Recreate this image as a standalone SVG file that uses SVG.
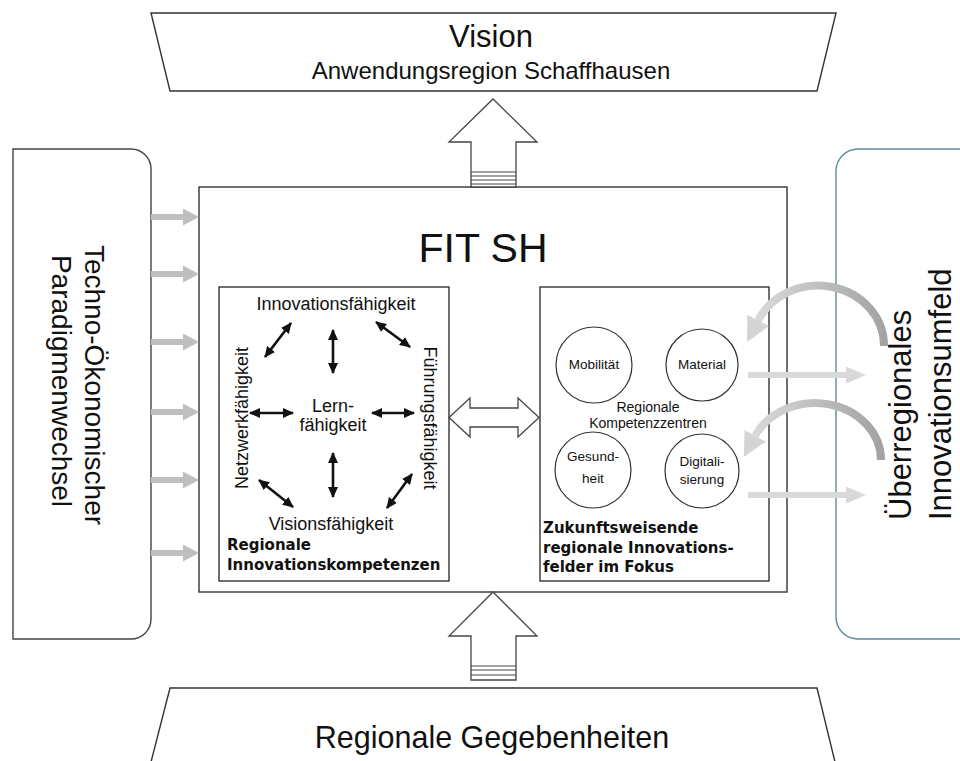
<svg xmlns="http://www.w3.org/2000/svg" width="960" height="761" viewBox="0 0 960 761">
<defs>
<style>
.t{font-family:"Liberation Sans",Arial,sans-serif;fill:#111}
.b{font-family:"DejaVu Sans",Verdana,sans-serif;font-weight:bold;fill:#111;font-size:15px}
.box{fill:#fff;stroke:#333;stroke-width:1.4}
.circ{fill:#fff;stroke:#333;stroke-width:1.2}
.blk{stroke:#111;stroke-width:2.6;fill:none;marker-start:url(#hb);marker-end:url(#hb)}
.gl{stroke:#bfbfbf;stroke-width:6;marker-end:url(#hgl)}
.gr{stroke:#d9d9d9;stroke-width:6;marker-end:url(#hgr)}
.hollow{fill:#fff;stroke:#444;stroke-width:1.3}
.c{font-size:13.5px}
.m{font-size:18px}
</style>
<marker id="hb" markerUnits="userSpaceOnUse" markerWidth="11" markerHeight="10" refX="10" refY="5" orient="auto-start-reverse" viewBox="0 0 11 10">
<path d="M0,0 L11,5 L0,10 z" fill="#111"/>
</marker>
<marker id="hgl" markerUnits="userSpaceOnUse" markerWidth="16" markerHeight="17" refX="0" refY="8.5" orient="auto" viewBox="0 0 16 17">
<path d="M0,0 L16,8.5 L0,17 z" fill="#bfbfbf"/>
</marker>
<marker id="hgr" markerUnits="userSpaceOnUse" markerWidth="20" markerHeight="17" refX="0" refY="8.5" orient="auto" viewBox="0 0 20 17">
<path d="M0,0 L20,8.5 L0,17 z" fill="#d9d9d9"/>
</marker>
<linearGradient id="gc" x1="1" y1="0" x2="0" y2="0">
<stop offset="0" stop-color="#a3a3a3"/>
<stop offset="1" stop-color="#d9d9d9"/>
</linearGradient>
</defs>
<rect width="960" height="761" fill="#fff"/>

<g id="vision">
<path d="M151,13 L836,13 L817,91 L170,91 z" fill="#fff" stroke="#333" stroke-width="1.4"/>
<text class="t" x="491" y="47" font-size="31" text-anchor="middle">Vision</text>
<text class="t" x="491" y="79" font-size="24" text-anchor="middle">Anwendungsregion Schaffhausen</text>
</g>

<g id="gegebenheiten">
<path d="M170,688 L817,688 L835,762 L151,762 z" fill="#fff" stroke="#333" stroke-width="1.4"/>
<text class="t" x="492" y="748" font-size="30.5" text-anchor="middle">Regionale Gegebenheiten</text>
</g>

<g id="paradigmenwechsel">
<path d="M13,149 L131,149 A20,20 0 0 1 151,169 L151,619 A20,20 0 0 1 131,639 L13,639 z" fill="#fff" stroke="#444" stroke-width="1.4"/>
<text class="t" font-size="28" text-anchor="middle" transform="translate(85,385) rotate(90)">Techno-Ökonomischer</text>
<text class="t" font-size="28" text-anchor="middle" transform="translate(52,381) rotate(90)">Paradigmenwechsel</text>
</g>

<g id="umfeld">
<path d="M1000,149 L858,149 A22,22 0 0 0 836,171 L836,617 A22,22 0 0 0 858,639 L1000,639" fill="#fff" stroke="#5b8c9b" stroke-width="1.4"/>
<text class="t" font-size="31" transform="translate(911,520) rotate(-90)">Überregionales</text>
<text class="t" font-size="31" transform="translate(951,520) rotate(-90)">Innovationsumfeld</text>
</g>

<g id="fitsh">
<rect class="box" x="199" y="187" width="588" height="405"/>
<text class="t" x="483" y="262" font-size="41" text-anchor="middle">FIT SH</text>
</g>

<g id="kompetenzen">
<rect class="box" x="219" y="287" width="230" height="294"/>
<text class="t m" x="336" y="310" text-anchor="middle">Innovationsfähigkeit</text>
<text class="t m" x="331" y="530" text-anchor="middle">Visionsfähigkeit</text>
<text class="t m" x="333" y="412" text-anchor="middle">Lern-</text>
<text class="t m" x="333" y="431" text-anchor="middle">fähigkeit</text>
<text class="t m" text-anchor="middle" transform="translate(248,418) rotate(-90)">Netzwerkfähigkeit</text>
<text class="t m" text-anchor="middle" transform="translate(424,418) rotate(90)">Führungsfähigkeit</text>
<text class="b" x="227" y="550">Regionale</text>
<text class="b" x="227" y="570">Innovationskompetenzen</text>
</g>

<g id="innovationsfelder">
<rect class="box" x="540" y="287" width="229" height="294"/>
<text class="b" x="543" y="533">Zukunftsweisende</text>
<text class="b" x="543" y="553">regionale Innovations-</text>
<text class="b" x="543" y="572">felder im Fokus</text>
<text class="t" x="648" y="412" font-size="14" text-anchor="middle">Regionale</text>
<text class="t" x="648" y="428" font-size="14" text-anchor="middle">Kompetenzzentren</text>
</g>

<g id="mobilitaet">
<circle class="circ" cx="594" cy="365" r="38"/>
<text class="t c" x="594" y="369" text-anchor="middle">Mobilität</text>
</g>
<g id="material">
<circle class="circ" cx="702" cy="365" r="36"/>
<text class="t c" x="702" y="369" text-anchor="middle">Material</text>
</g>
<g id="gesundheit">
<circle class="circ" cx="593" cy="470" r="38"/>
<text class="t c" x="593" y="461" text-anchor="middle">Gesund-</text>
<text class="t c" x="593" y="483" text-anchor="middle">heit</text>
</g>
<g id="digitalisierung">
<circle class="circ" cx="702" cy="471" r="37"/>
<text class="t c" x="702" y="466" text-anchor="middle">Digitali-</text>
<text class="t c" x="702" y="484" text-anchor="middle">sierung</text>
</g>

<g id="connectors">
<path d="M493,99 L537,142 L516,142 L516,187 L471,187 L471,142 L449,142 z" fill="#fff" stroke="#444" stroke-width="1.3"/>
<path d="M471,172 H516 M471,176 H516 M471,180 H516 M471,184 H516" stroke="#444" stroke-width="1.2"/>
<path d="M493,592 L537,636 L516,636 L516,680 L471,680 L471,636 L449,636 z" fill="#fff" stroke="#444" stroke-width="1.3"/>
<path d="M471,666 H516 M471,670 H516 M471,675 H516" stroke="#444" stroke-width="1.2"/>

<path class="hollow" d="M449,417.5 L470,398 L470,408 L518,408 L518,398 L539,417.5 L518,437 L518,427 L470,427 L470,437 z"/>

<line class="gl" x1="151" y1="217" x2="183" y2="217"/>
<line class="gl" x1="151" y1="274" x2="183" y2="274"/>
<line class="gl" x1="151" y1="342" x2="183" y2="342"/>
<line class="gl" x1="151" y1="412" x2="183" y2="412"/>
<line class="gl" x1="151" y1="480" x2="183" y2="480"/>
<line class="gl" x1="151" y1="553" x2="183" y2="553"/>

<line class="gr" x1="748" y1="375" x2="846" y2="375"/>
<line class="gr" x1="748" y1="495" x2="846" y2="495"/>

<path d="M884,346 A66,60 0 0 0 758,320.6" fill="none" stroke="url(#gc)" stroke-width="8"/>
<path d="M747,342 L747.3,315 L769,326 z" fill="#d4d4d4"/>
<path d="M881,460 A66,57 0 0 0 755.2,435.9" fill="none" stroke="url(#gc)" stroke-width="8"/>
<path d="M743.8,457 L744.6,430.2 L765.8,441.6 z" fill="#d4d4d4"/>

<line class="blk" x1="333" y1="330" x2="333" y2="373"/>
<line class="blk" x1="333" y1="453" x2="333" y2="497"/>
<line class="blk" x1="250" y1="413" x2="293" y2="413"/>
<line class="blk" x1="372" y1="413" x2="414" y2="413"/>
<line class="blk" x1="291" y1="323" x2="265" y2="357"/>
<line class="blk" x1="376" y1="322" x2="410" y2="347"/>
<line class="blk" x1="259" y1="480" x2="293" y2="507"/>
<line class="blk" x1="412" y1="474" x2="387" y2="508"/>
</g>
</svg>
